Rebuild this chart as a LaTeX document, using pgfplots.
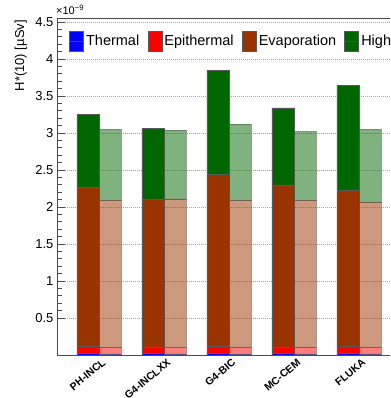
\documentclass[border=0pt]{standalone}
\usepackage{pgfplots}
\usepackage{pgfplotstable}
\pgfplotsset{compat=1.18}
\usepackage{fontspec}
\setmainfont{Liberation Sans}
\definecolor{cth}{RGB}{0,0,255}
\definecolor{cep}{RGB}{255,0,0}
\definecolor{cev}{RGB}{153,51,0}
\definecolor{chi}{RGB}{0,102,0}

\pgfplotstableread{
x th ep ev hi
0 0.02 0.10 2.15 0.98
1 0.02 0.09 2.00 0.95
2 0.02 0.10 2.32 1.41
3 0.02 0.09 2.19 1.04
4 0.02 0.10 2.11 1.41
}\darkdata
\pgfplotstableread{
x th ep ev hi
0 0.015 0.085 1.99 0.96
1 0.015 0.085 2.01 0.93
2 0.015 0.085 1.99 1.03
3 0.015 0.085 1.99 0.93
4 0.015 0.085 1.97 0.98
}\lightdata

\pgfplotsset{
  mybase/.style={
    scale only axis, width=400pt, height=337pt,
    xmin=-0.646, xmax=5.508, ymin=0, ymax=4.554,
    ybar stacked, bar width=22pt,
    at={(57pt,43pt)}, anchor=south west,
  },
  barst/.style={draw=black!65, line width=0.5pt},
}

\begin{document}
\begin{tikzpicture}[x=1pt,y=1pt]
\useasboundingbox (0,0) rectangle (390,398);
\clip (0,0) rectangle (390,398);
\begin{axis}[mybase,
  bar shift=-11pt,
  axis line style={black!70, line width=0.8pt},
  xtick={0,1,2,3,4},
  xticklabels={PH-INCL,G4-INCLXX,G4-BIC,MC-CEM,FLUKA},
  x tick style={draw=none},
  xticklabel style={rotate=40, anchor=north east, font=\bfseries\fontsize{10.5}{12}\selectfont, inner sep=1pt, yshift=-3pt, xshift=1pt},
  ytick={0.5,1,1.5,2,2.5,3,3.5,4,4.5},
  yticklabels={0.5,1,1.5,2,2.5,3,3.5,4,4.5},
  minor y tick num=4,
  tick align=inside,
  major tick length=8pt, minor tick length=5pt,
  y tick style={black!70, line width=0.6pt},
  ymajorgrids,
  major grid style={black!35, line width=0.6pt, dash pattern=on 1pt off 1pt},
  yticklabel style={font=\fontsize{13}{15}\selectfont},
  /pgf/number format/assume math mode=true,
  ylabel={H*(10) [µSv]},
  ylabel style={font=\fontsize{13}{15}\selectfont, at={(rel axis cs:0,1)}, anchor=south east, inner sep=0pt, xshift=-2pt, yshift=30pt},
  legend columns=-1,
  legend style={at={(axis cs:-0.4614,4.243)}, anchor=west, draw=none, fill=white, inner sep=0pt,
    font=\fontsize{14.5}{16}\selectfont,
    nodes={inner sep=1.5pt, inner xsep=2.2pt},
    /tikz/every even column/.append style={column sep=6pt}},
  legend image code/.code={
    \draw[#1] (0pt,-10pt) rectangle (14pt,10pt);
    \draw[black!70, line width=0.7pt] (0pt,0pt) -- (14pt,0pt);
  },
]
\addplot[barst, fill=cth] table[x=x,y=th]{\darkdata};
\addplot[barst, fill=cep] table[x=x,y=ep]{\darkdata};
\addplot[barst, fill=cev] table[x=x,y=ev]{\darkdata};
\addplot[barst, fill=chi] table[x=x,y=hi]{\darkdata};
\legend{Thermal,Epithermal,Evaporation,High energy}
\end{axis}
\begin{axis}[mybase,
  bar shift=11pt,
  hide axis,
]
\addplot[barst, fill=cth, fill opacity=0.5, draw opacity=0.6] table[x=x,y=th]{\lightdata};
\addplot[barst, fill=cep, fill opacity=0.5, draw opacity=0.6] table[x=x,y=ep]{\lightdata};
\addplot[barst, fill=cev, fill opacity=0.5, draw opacity=0.6] table[x=x,y=ev]{\lightdata};
\addplot[barst, fill=chi, fill opacity=0.5, draw opacity=0.6] table[x=x,y=hi]{\lightdata};
\end{axis}
\node[anchor=south west, inner sep=0pt, font=\fontsize{11}{13}\selectfont] at (56,383) {×10\textsuperscript{−9}};
\end{tikzpicture}
\end{document}
